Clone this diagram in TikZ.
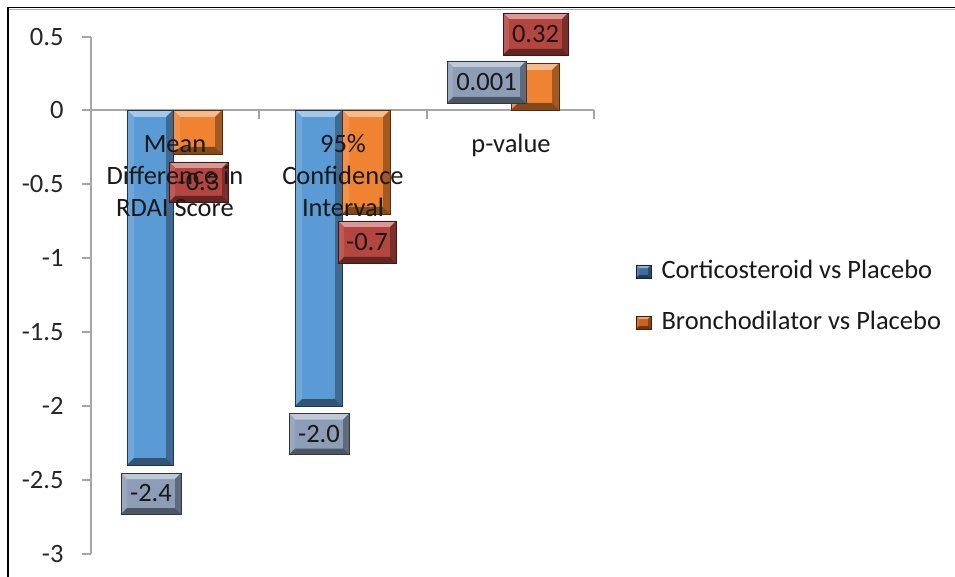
\documentclass[tikz,border=0pt]{standalone}
\usepackage{fontspec}
\setmainfont{Carlito}
\usetikzlibrary{calc}
\definecolor{barblue}{HTML}{5B9BD5}
\definecolor{barorange}{HTML}{F08331}
\definecolor{lblgray}{HTML}{8C9DB5}
\definecolor{lblred}{HTML}{B4453F}
\definecolor{mkblue}{HTML}{3E6E9E}
\definecolor{mkorange}{HTML}{C8621F}
\definecolor{axisgray}{HTML}{A6A6A6}
\newcommand\chartfont{\fontsize{26.5}{32}\selectfont}
\def\bvsz{6pt}
\tikzset{
  bvsize/.code={\def\bvsz{#1}},
  bevbox/.style={fill=#1, draw=#1!35!black, line width=0.6pt,
    path picture={
      \coordinate (bnw) at (path picture bounding box.north west);
      \coordinate (bne) at (path picture bounding box.north east);
      \coordinate (bsw) at (path picture bounding box.south west);
      \coordinate (bse) at (path picture bounding box.south east);
      \fill[#1!55!white] (bnw) -- (bne) -- ($(bne)+(-\bvsz,-\bvsz)$) -- ($(bnw)+(\bvsz,-\bvsz)$) -- cycle;
      \fill[#1!88!white] (bnw) -- ($(bnw)+(\bvsz,-\bvsz)$) -- ($(bsw)+(\bvsz,\bvsz)$) -- (bsw) -- cycle;
      \fill[#1!68!black] (bne) -- (bse) -- ($(bse)+(-\bvsz,\bvsz)$) -- ($(bne)+(-\bvsz,-\bvsz)$) -- cycle;
      \fill[#1!55!black] (bsw) -- (bse) -- ($(bse)+(-\bvsz,\bvsz)$) -- ($(bsw)+(\bvsz,\bvsz)$) -- cycle;
    }},
  lbl/.style={bevbox=#1, inner sep=0pt, minimum height=41pt, text=black!90},
  tick/.style={anchor=base east, text=black!85},
  cat/.style={anchor=base, text=black!90},
  axisline/.style={draw=axisgray, line width=1.3pt},
  frameline/.style={draw=black, line width=1.6pt}
}
\begin{document}
\begin{tikzpicture}[x=1pt, y=-1pt, every node/.style={font=\chartfont}]
\useasboundingbox (0,0) rectangle (955,577);
% frame
\draw[black!30, line width=0.8pt] (9,9.6) -- (955,9.6);
\draw[frameline] (8,7.5) -- (955,7.5);
\draw[frameline] (8,7.5) -- (8,577);
% axes
\draw[axisline] (91,37) -- (91,554);
\foreach \yy in {37,110,184,258,332,406,480,554} {\draw[axisline] (82,\yy) -- (91,\yy);}
\draw[axisline] (91,110) -- (594,110);
\foreach \xx in {259,427,594} {\draw[axisline] (\xx,110) -- (\xx,119);}
% tick labels
\node[tick] (t1) at (67,45.5) {0.5};
\node[tick] (t2) at (67,118.5) {0};
\node[tick] (t3) at (67,192.5) {-0.5};
\node[tick] (t4) at (67,266.5) {-1};
\node[tick] (t5) at (67,340.5) {-1.5};
\node[tick] (t6) at (67,414.5) {-2};
\node[tick] (t7) at (67,488.5) {-2.5};
\node[tick] (t8) at (67,562.5) {-3};
% bars
\path[bvsize=7pt, bevbox=barblue] (127,110) rectangle (173,465);
\path[bvsize=7pt, bevbox=barorange] (173,110) rectangle (222,154);
\path[bvsize=7pt, bevbox=barblue] (295,110) rectangle (342,406);
\path[bvsize=7pt, bevbox=barorange] (342,110) rectangle (390,214);
\path[bvsize=7pt, bevbox=barorange] (511,63) rectangle (559,110);
% data labels
\node[lbl=lblgray, minimum width=60pt] (d1) at (151,493.5) {-2.4};
\node[lbl=lblgray, minimum width=60pt] (d2) at (319,434) {-2.0};
\node[lbl=lblred, minimum width=59pt, minimum height=40pt] (d3) at (198.5,182) {-0.3};
\node[lbl=lblred, minimum width=58pt, minimum height=42pt] (d4) at (367,242) {-0.7};
\node[lbl=lblgray, minimum width=79pt, minimum height=42pt] (d5) at (486.5,82) {0.001};
\node[lbl=lblred, minimum width=65pt, minimum height=42pt] (d6) at (535.5,34) {0.32};
% category labels
\node[cat] (c1a) at (175,153) {Mean};
\node[cat] (c1b) at (175,185) {Difference in};
\node[cat] (c1c) at (175,217) {RDAI Score};
\node[cat] (c2a) at (343,153) {95\%};
\node[cat] (c2b) at (343,185) {Confidence};
\node[cat] (c2c) at (343,217) {Interval};
\node[cat] (c3a) at (511,153) {p-value};
% legend
\path[bvsize=3pt, bevbox=mkblue] (636,265) rectangle (651,278);
\node[anchor=base west, text=black!90] (g1) at (658,278) {Corticosteroid vs Placebo};
\path[bvsize=3pt, bevbox=mkorange] (636,316) rectangle (651,329);
\node[anchor=base west, text=black!90] (g2) at (658,329) {Bronchodilator vs Placebo};
\end{tikzpicture}
\end{document}
